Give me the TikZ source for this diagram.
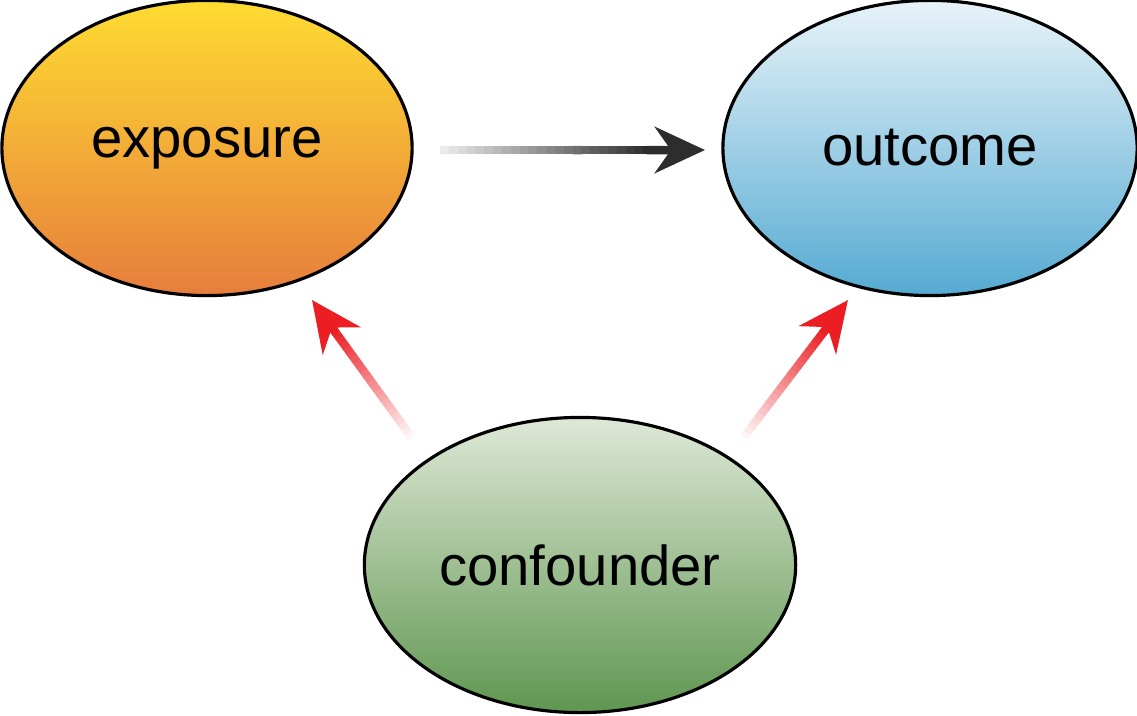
\documentclass[tikz,border=0pt]{standalone}
\usepackage{fontspec}
\setmainfont{Liberation Sans}
\usetikzlibrary{arrows.meta, positioning, calc, shapes.geometric}
\definecolor{expotop}{RGB}{255,220,50}
\definecolor{expobot}{RGB}{230,125,60}
\definecolor{outtop}{RGB}{232,243,249}
\definecolor{outbot}{RGB}{85,170,210}
\definecolor{conftop}{RGB}{222,232,214}
\definecolor{confbot}{RGB}{95,150,80}
\definecolor{arrowred}{RGB}{235,30,35}
\definecolor{arrowdark}{RGB}{45,45,45}
\tikzset{%
	every factor/.style={
		ellipse,
		draw,
		line width=0.9pt,
		minimum width=4.1cm,
		minimum height=2.95cm,
		font=\fontsize{16}{19}\selectfont
	},
	fade arrow/.style={
		line width=0.085cm
	},
}
\begin{document}
\begin{tikzpicture}[x=0.01cm,y=-0.01cm]
	\useasboundingbox (0,0) rectangle (1137,715);
	\node[every factor, top color=expotop, bottom color=expobot] (exposure) at (207,148) {exposure};
	\node[every factor, top color=outtop, bottom color=outbot, minimum width=4.14cm] (outcome) at (930,148) {outcome};
	\node[every factor, top color=conftop, bottom color=confbot, minimum width=4.18cm] (confounder) at (580,565) {confounder};
	\coordinate (main start) at (440,150);
	\coordinate (main end) at (705,150);
	\coordinate (left start) at (415,442);
	\coordinate (left end) at (312,300);
	\coordinate (right start) at (740,442);
	\coordinate (right end) at (848,300);
	% shaded shafts
	\foreach \s/\e/\c/\f in {main start/main end/arrowdark/10, left start/left end/arrowred/0, right start/right end/arrowred/0}{
		\foreach \i in {0,...,23}{
			\pgfmathsetmacro{\ta}{\i/30}
			\pgfmathsetmacro{\tb}{(\i+1.1)/30}
			\pgfmathsetmacro{\pc}{\f+(100-\f)*\i/23}
			\draw[fade arrow, \c!\pc!white] ($(\s)!\ta!(\e)$) -- ($(\s)!\tb!(\e)$);
		}
		\draw[fade arrow, \c, -{Stealth[length=0.5cm, width=0.46cm, inset=0.16cm]}] ($(\s)!0.78!(\e)$) -- (\e);
	}
\end{tikzpicture}
\end{document}
